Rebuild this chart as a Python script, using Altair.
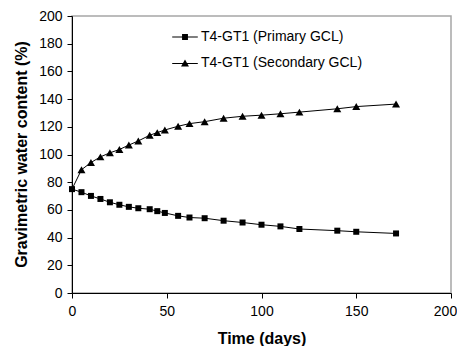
import altair as alt
import pandas as pd

days = [0, 5, 10, 15, 20, 25, 30, 35, 41, 45, 49, 56, 62, 70, 80, 90, 100, 110, 120, 140, 150, 171]
primary = [75, 72.8, 70.1, 67.9, 65.5, 63.7, 62.2, 61.2, 60.5, 59.1, 57.8, 55.7, 54.5, 54.0, 52.2,
           50.9, 49.3, 48.1, 46.2, 45.0, 44.2, 43.0]
secondary = [75, 89, 94.2, 98.3, 101.2, 103.6, 106.8, 109.8, 113.9, 115.8, 117.7, 120.4, 122.3, 123.7,
             126.2, 127.6, 128.4, 129.4, 130.6, 133.0, 134.6, 136.4]
series_names = ["T4-GT1 (Primary GCL)", "T4-GT1 (Secondary GCL)"]

rows = []
for d, p in zip(days, primary):
    rows.append({"day": d, "wc": p, "series": series_names[0]})
for d, s in zip(days, secondary):
    rows.append({"day": d, "wc": s, "series": series_names[1]})
df = pd.DataFrame(rows)

FONT = "Liberation Sans, Arial, sans-serif"

x = alt.X("day:Q", scale=alt.Scale(domain=[0, 200], nice=False),
          axis=alt.Axis(title="Time (days)", values=[0, 50, 100, 150, 200], grid=False,
                        labelFlush=False,
                        labelOffset={"condition": {"test": "datum.value == 200", "value": -6}, "value": 0},
                        titleY=50, titleBaseline="alphabetic"))
y = alt.Y("wc:Q", scale=alt.Scale(domain=[0, 200], nice=False),
          axis=alt.Axis(title="Gravimetric water content (%)", values=list(range(0, 201, 20)), grid=False,
                        labelFlush=False,
                        titleX=-50.5, titleY=138, titleAngle=-90, titleBaseline="middle", titleAlign="center"))

base = alt.Chart(df)

lines = base.mark_line(color="black", strokeWidth=1).encode(
    x=x, y=y, detail="series:N"
)

points = base.transform_filter(alt.datum.day > 0).mark_point(filled=True, color="black", opacity=1).encode(
    x=x, y=y,
    shape=alt.Shape("series:N", scale=alt.Scale(domain=series_names, range=["square", "triangle-up"]), legend=None),
    size=alt.Size("series:N", scale=alt.Scale(domain=series_names, range=[36, 64]), legend=None),
)

first = base.transform_filter(alt.datum.day == 0).transform_filter(
    alt.datum.series == series_names[0]).mark_point(
    filled=True, color="black", shape="square", size=36, opacity=1).encode(x=x, y=y)

legend_paths = [
    "M-1,-0.04H1V0.04H-1ZM-0.23,-0.23H0.23V0.23H-0.23Z",
    "M-1,-0.04H1V0.04H-1ZM0,-0.3L0.31,0.24H-0.31Z",
]
legend_layer = base.mark_point(filled=True, fill="black", stroke="black", strokeWidth=1, opacity=0).encode(
    x=x, y=y,
    shape=alt.Shape("series:N", scale=alt.Scale(domain=series_names, range=legend_paths),
                    legend=alt.Legend(title=None, orient="none", legendX=100, legendY=8,
                                      symbolSize=655, labelLimit=400,
                                      symbolOpacity=1, symbolFillColor="black",
                                      symbolStrokeColor="black", symbolStrokeWidth=0,
                                      labelFont=FONT, labelFontSize=14, labelColor="black",
                                      labelOffset=3, rowPadding=6.4, padding=0)),
)

chart = alt.layer(lines, legend_layer, points, first).resolve_scale(
    shape="independent", size="independent"
).properties(
    width=379, height=277,
    autosize=alt.AutoSizeParams(type="none"),
    padding={"left": 64, "top": 8, "right": 6, "bottom": 53},
).configure_view(
    stroke="#a6a6a6", strokeWidth=1.5
).configure_axis(
    domainColor="black", domainWidth=1, tickColor="black", tickSize=5, tickWidth=1,
    labelFont=FONT, labelFontSize=14, labelColor="black",
    titleFont=FONT, titleFontSize=16, titleFontWeight="bold", titleColor="black",
).configure_axisX(labelPadding=6).configure_axisY(labelPadding=5)

chart.save("out.html", embed_options={"renderer": "svg", "actions": False})
